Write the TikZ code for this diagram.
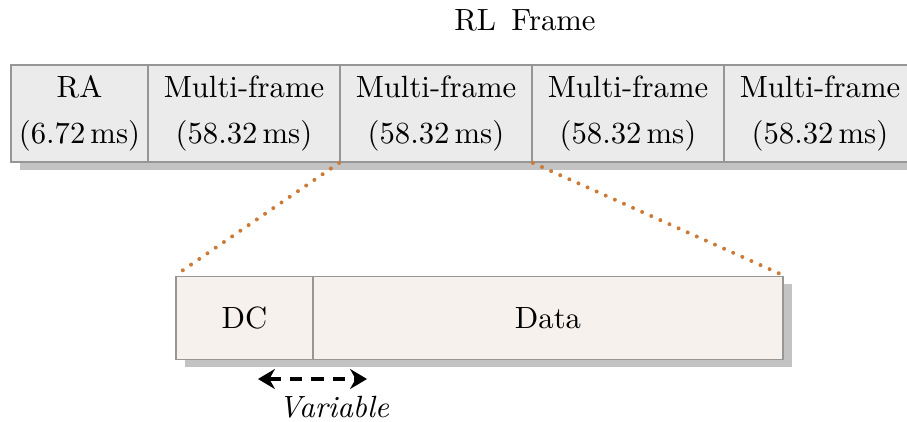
\documentclass[tikz,border=0pt]{standalone}
\usetikzlibrary{shadows,arrows.meta}
\definecolor{boxgray}{RGB}{235,235,235}
\definecolor{boxline}{RGB}{150,150,150}
\definecolor{boxcream}{RGB}{246,241,236}
\definecolor{shadowgray}{RGB}{195,195,195}
\definecolor{zoomline}{RGB}{204,122,55}
\tikzset{
  frbox/.style={draw=boxline, line width=0.6pt, inner sep=0pt, align=center,
    drop shadow={shadow xshift=2.8pt, shadow yshift=-2.6pt, opacity=1, fill=shadowgray}},
  topbox/.style={frbox, fill=boxgray, minimum height={97*0.3257pt}},
  subbox/.style={frbox, fill=boxcream, minimum height={83*0.3257pt}},
  zoomlink/.style={zoomline, line width=1.3pt, line cap=round, dash pattern=on 0pt off 3.25pt},
  spanarrow/.style={{Stealth[length=5.5pt,width=6.5pt]}-{Stealth[length=5.5pt,width=6.5pt]}, line width=1pt, dash pattern=on 4pt off 3pt}
}
\begin{document}
\begin{tikzpicture}[x=0.3257pt, y=-0.3257pt]
\useasboundingbox (0,0) rectangle (907,421);

% title
\node (title) at (525,20) {RL~\,Frame};

% RL frame: random access slot followed by multi-frames
\node[topbox, minimum width={137*0.3257pt}] (ra)  at (79.5,113.5) {RA\\[3pt](6.72\,ms)};
\node[topbox, minimum width={192*0.3257pt}] (mf1) at (244,113.5) {Multi-frame\\[3pt](58.32\,ms)};
\node[topbox, minimum width={192*0.3257pt}] (mf2) at (436,113.5) {Multi-frame\\[3pt](58.32\,ms)};
\node[topbox, minimum width={192*0.3257pt}] (mf3) at (628,113.5) {Multi-frame\\[3pt](58.32\,ms)};
\node[topbox, minimum width={192*0.3257pt}] (mf4) at (820,113.5) {Multi-frame\\[3pt](58.32\,ms)};

% expanded multi-frame
\node[subbox, minimum width={137*0.3257pt}] (dc)   at (244.5,318) {DC};
\node[subbox, minimum width={470*0.3257pt}] (data) at (548,318) {Data};

% zoom lines
\draw[zoomlink] (mf2.south west) -- (dc.north west);
\draw[zoomlink] (mf2.south east) -- (data.north east);

% variable-length marker
\coordinate (vl) at (258,379);
\coordinate (vr) at (367,379);
\draw[spanarrow] (vl) -- (vr);
\node (var) at (334,407) {\textit{Variable}};
\end{tikzpicture}
\end{document}
